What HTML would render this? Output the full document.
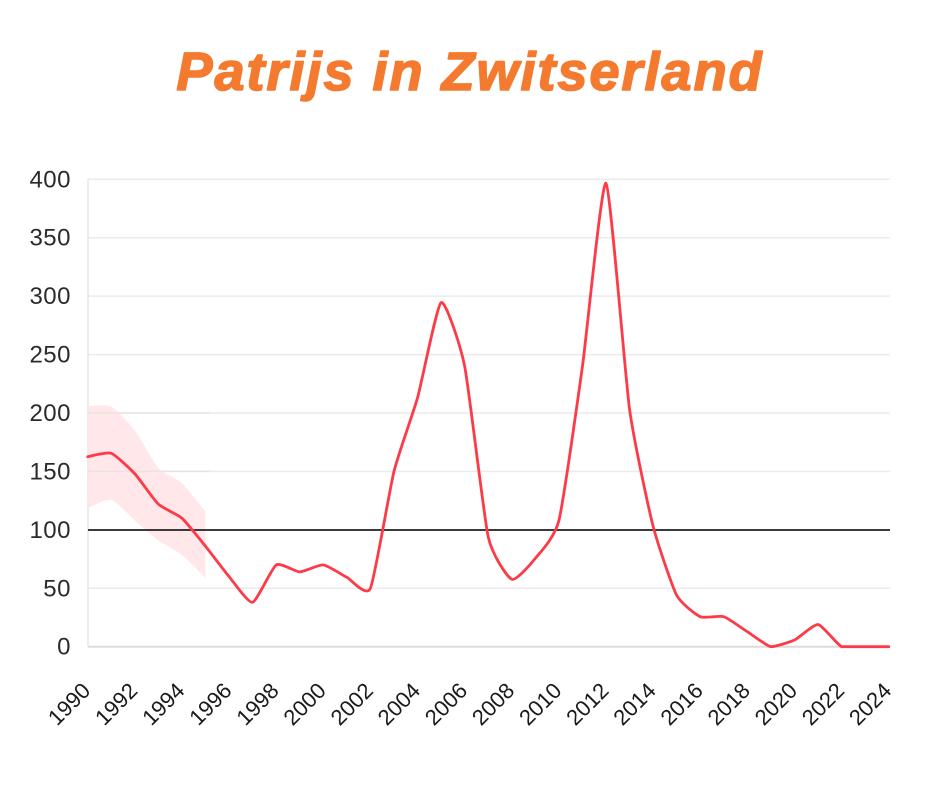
<!DOCTYPE html>
<html>
<head>
<meta charset="utf-8">
<style>
html,body{margin:0;padding:0;background:#fff;}
body{width:940px;height:788px;overflow:hidden;}
svg{display:block;}
</style>
</head>
<body>
<svg id="chart" width="940" height="788" viewBox="0 0 940 788" xmlns="http://www.w3.org/2000/svg">
  <rect width="940" height="788" fill="#ffffff"/>
  <text x="470" y="90" text-anchor="middle" font-family="Liberation Sans, sans-serif" font-weight="bold" font-style="italic" font-size="54" letter-spacing="2" fill="#f47a2f" stroke="#f47a2f" stroke-width="1.6" stroke-linejoin="round">Patrijs in Zwitserland</text>
  <g id="grid"></g>
  <path id="band" fill="#ffe3e6" fill-opacity="0.85" stroke="none"/>
  <g id="grid2"></g>
  <line x1="88" y1="530" x2="890" y2="530" stroke="#3a3a3a" stroke-width="2"/>
  <path id="line" fill="none" stroke="#fd3a47" stroke-width="2.8" stroke-linejoin="round" stroke-linecap="round"/>
  <g id="ylabels" font-family="Liberation Sans, sans-serif" font-size="24" letter-spacing="0.5" fill="#2b2b2b" text-anchor="end"></g>
  <g id="xlabels" font-family="Liberation Sans, sans-serif" font-size="22" fill="#1a1a1a" text-anchor="end"></g>
</svg>
<script>
(function(){
  var NS="http://www.w3.org/2000/svg";
  var x0=87.7, dx=23.56, y0=646.7, k=1.1685;
  function X(yr){return x0+(yr-1990)*dx;}
  function Y(v){return y0-v*k;}
  var grid=document.getElementById('grid');
  var yl=document.getElementById('ylabels');
  for(var v=0;v<=400;v+=50){
    var y=Y(v);
    var l=document.createElementNS(NS,'line');
    l.setAttribute('x1',88);l.setAttribute('x2',890);
    l.setAttribute('y1',y);l.setAttribute('y2',y);
    l.setAttribute('stroke',v===0?'#dcdcdc':'#ebebeb');
    l.setAttribute('stroke-width',v===0?2:1.5);
    grid.appendChild(l);
    var t=document.createElementNS(NS,'text');
    t.setAttribute('x',71);t.setAttribute('y',y+8);
    t.textContent=v;
    yl.appendChild(t);
  }
  var ax=document.createElementNS(NS,'line');
  ax.setAttribute('x1',88);ax.setAttribute('x2',88);
  ax.setAttribute('y1',179);ax.setAttribute('y2',647);
  ax.setAttribute('stroke','#e6e6e6');ax.setAttribute('stroke-width',1.5);
  grid.appendChild(ax);

  var xl=document.getElementById('xlabels');
  for(var yr=1990;yr<=2024;yr+=2){
    var ex=X(yr)+4, ey=692;
    var t=document.createElementNS(NS,'text');
    t.setAttribute('x',ex);t.setAttribute('y',ey);
    t.setAttribute('transform','rotate(-45 '+ex+' '+ey+')');
    t.textContent=yr;
    xl.appendChild(t);
  }

  function cardinal(pts,s,ymax){
    var n=pts.length;
    function cl(y){return ymax!==undefined?Math.min(y,ymax):y;}
    var out='M'+pts[0][0].toFixed(2)+','+pts[0][1].toFixed(2);
    for(var i=0;i<n-1;i++){
      var p0=pts[Math.max(0,i-1)], p1=pts[i], p2=pts[i+1], p3=pts[Math.min(n-1,i+2)];
      var c1x=p1[0]+(p2[0]-p0[0])*s, c1y=cl(p1[1]+(p2[1]-p0[1])*s);
      var c2x=p2[0]-(p3[0]-p1[0])*s, c2y=cl(p2[1]-(p3[1]-p1[1])*s);
      out+='C'+c1x.toFixed(2)+','+c1y.toFixed(2)+' '+c2x.toFixed(2)+','+c2y.toFixed(2)+' '+p2[0].toFixed(2)+','+p2[1].toFixed(2);
    }
    return out;
  }

  var vals=[162.6,165.5,148,122,110,86,60,38,70,64,70,59.4,50,150,213,294.5,240,94,57.7,75.6,108,240,396.6,203,103,44,25.7,25.7,12.8,0,5.7,19,0,0,0];
  var pts=vals.map(function(v,i){return [X(1990+i),Y(v)];});
  document.getElementById('line').setAttribute('d',cardinal(pts,0.09,y0));

  var up=[206,205.4,185,153,140,115.5], lo=[118.6,125.5,108,91,78.5,58.8];
  var upP=up.map(function(v,i){return [X(1990+i),Y(v)];});
  var loP=lo.map(function(v,i){return [X(1990+i),Y(v)];}).reverse();
  var dUp=cardinal(upP,0.12);
  var dLo=cardinal(loP,0.12).replace(/^M/,'L');
  document.getElementById('band').setAttribute('d',dUp+dLo+'Z');

  var g2=document.getElementById('grid2');
  [150,200].forEach(function(v){
    var l=document.createElementNS(NS,'line');
    l.setAttribute('x1',88);l.setAttribute('x2',210);
    l.setAttribute('y1',Y(v));l.setAttribute('y2',Y(v));
    l.setAttribute('stroke','#ebe3e3');l.setAttribute('stroke-width',1.5);
    g2.appendChild(l);
  });
})();
</script>
</body>
</html>
